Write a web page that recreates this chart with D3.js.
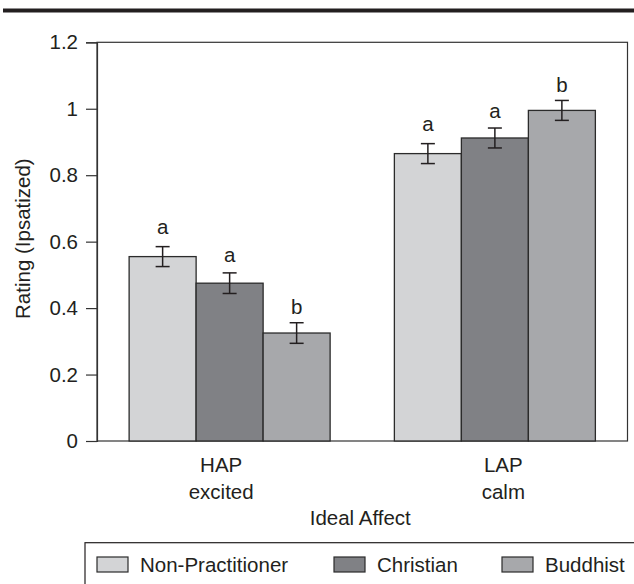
<!DOCTYPE html>
<html>
<head>
<meta charset="utf-8">
<script src="https://cdn.jsdelivr.net/npm/d3@7"></script>
<style>
  body { margin: 0; background: #fff; }
  svg text { font-family: 'Liberation Sans', Arial, sans-serif; fill: #231f20; }
</style>
</head>
<body>
<div class="chart"></div>
<script>
const categories = ['HAP', 'LAP'];
const subLabels = ['excited', 'calm'];
const series = ['Non-Practitioner', 'Christian', 'Buddhist'];
const hapValues = [0.555, 0.475, 0.325];
const lapValues = [0.865, 0.912, 0.995];
const hapErrors = [0.03, 0.031, 0.031];
const lapErrors = [0.03, 0.03, 0.03];
const hapLetters = ['a', 'a', 'b'];
const lapLetters = ['a', 'a', 'b'];
const yTicks = [0, 0.2, 0.4, 0.6, 0.8, 1, 1.2];

const colors = ['#d3d4d6', '#808185', '#a7a8ab'];
const width = 634;
const height = 584;
const fs = 20.5;
const plotL = 97, plotR = 627.5, plotT = 42.3, plotB = 441;

const rows = [];
categories.forEach((c, ci) => {
  const vals = ci === 0 ? hapValues : lapValues;
  const errs = ci === 0 ? hapErrors : lapErrors;
  const lets = ci === 0 ? hapLetters : lapLetters;
  series.forEach((s, si) => {
    rows.push({ cat: c, series: s, si: si, value: vals[si], err: errs[si], letter: lets[si] });
  });
});

const svg = d3
  .select('.chart')
  .append('svg')
  .attr('width', width)
  .attr('height', height);

// heavy rule at the top
svg.append('rect')
  .attr('x', 3).attr('y', 8.5)
  .attr('width', width).attr('height', 4)
  .attr('fill', '#231f20');

const y = d3.scaleLinear().domain([0, 1.2]).range([plotB, plotT]);
const x0 = d3.scaleBand().domain(categories).range([plotL, plotR]);
const x1 = d3.scaleBand().domain(series)
  .range([(x0.bandwidth() - 201) / 2, (x0.bandwidth() + 201) / 2]);
const labelX = d3.scalePoint().domain(categories).range([plotL, plotR]).padding(0.44);

// frame
svg.append('rect')
  .attr('x', plotL).attr('y', plotT)
  .attr('width', plotR - plotL).attr('height', plotB - plotT)
  .attr('fill', 'none')
  .attr('stroke', '#333')
  .attr('stroke-width', 1.2);

const yAxis = svg.append('g')
  .attr('transform', `translate(${plotL},0)`)
  .call(d3.axisLeft(y).tickValues(yTicks).tickSize(11).tickPadding(8).tickFormat(d3.format('~g')));
yAxis.select('.domain').attr('stroke', '#333').attr('stroke-width', 1.2);
yAxis.selectAll('.tick line').attr('stroke', '#333').attr('stroke-width', 1.2);
yAxis.selectAll('.tick text').attr('font-size', fs).attr('fill', '#231f20');
yAxis.attr('font-family', null);

svg.append('text')
  .attr('transform', `translate(22,${(plotT + plotB) / 2 - 3}) rotate(-90)`)
  .attr('text-anchor', 'middle')
  .attr('dominant-baseline', 'central')
  .attr('font-size', fs)
  .text('Rating (Ipsatized)');

const bars = svg.append('g');
bars.selectAll('rect')
  .data(rows)
  .enter()
  .append('rect')
  .attr('x', (d) => x0(d.cat) + x1(d.series))
  .attr('y', (d) => y(d.value))
  .attr('width', x1.bandwidth())
  .attr('height', (d) => y(0) - y(d.value))
  .attr('fill', (d) => colors[d.si])
  .attr('stroke', '#2b2b2b')
  .attr('stroke-width', 1.3);

// error bars
const eb = svg.append('g').attr('stroke', '#231f20').attr('stroke-width', 1.5);
rows.forEach((d) => {
  const cx = x0(d.cat) + x1(d.series) + x1.bandwidth() / 2;
  eb.append('line').attr('x1', cx).attr('x2', cx)
    .attr('y1', y(d.value + d.err)).attr('y2', y(d.value - d.err));
  eb.append('line').attr('x1', cx - 7).attr('x2', cx + 7)
    .attr('y1', y(d.value + d.err)).attr('y2', y(d.value + d.err));
  eb.append('line').attr('x1', cx - 7).attr('x2', cx + 7)
    .attr('y1', y(d.value - d.err)).attr('y2', y(d.value - d.err));
});

// significance letters
const letterGap = [12.6, 10.4, 8.3];
svg.append('g').selectAll('text')
  .data(rows)
  .enter()
  .append('text')
  .attr('x', (d) => x0(d.cat) + x1(d.series) + x1.bandwidth() / 2)
  .attr('y', (d) => y(d.value + d.err) - letterGap[d.si])
  .attr('text-anchor', 'middle')
  .attr('font-size', fs)
  .text((d) => d.letter);

// category labels
categories.forEach((c, i) => {
  svg.append('text')
    .attr('x', labelX(c)).attr('y', 472)
    .attr('text-anchor', 'middle').attr('font-size', fs)
    .text(c);
  svg.append('text')
    .attr('x', labelX(c)).attr('y', 499)
    .attr('text-anchor', 'middle').attr('font-size', fs)
    .text(subLabels[i]);
});

svg.append('text')
  .attr('x', (plotL + plotR) / 2 - 2).attr('y', 525)
  .attr('text-anchor', 'middle').attr('font-size', fs)
  .text('Ideal Affect');

// legend
svg.append('rect')
  .attr('x', 85).attr('y', 542.7)
  .attr('width', 600).attr('height', 60)
  .attr('fill', 'none')
  .attr('stroke', '#231f20')
  .attr('stroke-width', 1.2);

const legendX = [97, 334, 502];
const legend = svg.append('g').selectAll('g')
  .data(series)
  .enter()
  .append('g')
  .attr('transform', (d, i) => `translate(${legendX[i]},557)`);
legend.append('rect')
  .attr('width', 31).attr('height', 15)
  .attr('fill', (d, i) => colors[i])
  .attr('stroke', '#2b2b2b')
  .attr('stroke-width', 1.2);
legend.append('text')
  .attr('x', 43).attr('y', 14.5)
  .attr('font-size', fs)
  .text((d) => d);
</script>
</body>
</html>
